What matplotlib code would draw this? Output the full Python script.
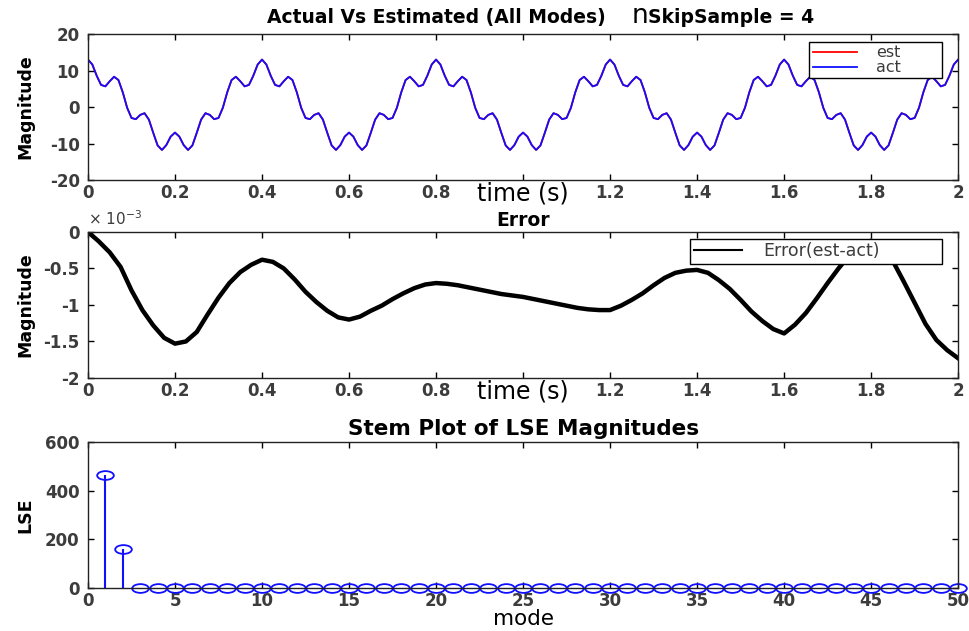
import numpy as np
import matplotlib.pyplot as plt
from matplotlib.path import Path
from matplotlib.offsetbox import TextArea, HPacker, AnchoredOffsetbox

plt.rcParams['axes.unicode_minus'] = False
plt.rcParams['font.family'] = ['DejaVu Sans']

# signal sampled every 10 ms over 2 s
t_sig = np.arange(201) * 0.01
act = [13.00, 11.64, 8.58, 6.06, 5.66, 7.07, 8.30, 7.39, 4.02, -0.20,
       -3.00, -3.33, -2.16, -1.69, -3.45, -7.07, -10.52, -11.76, -10.44, -8.11,
       -7.00, -8.11, -10.44, -11.76, -10.52, -7.07, -3.45, -1.69, -2.16, -3.33,
       -3.00, -0.20, 4.02, 7.39, 8.30, 7.07, 5.66, 6.06, 8.58, 11.64,
       13.00, 11.64, 8.58, 6.06, 5.66, 7.07, 8.30, 7.39, 4.02, -0.20,
       -3.00, -3.33, -2.16, -1.69, -3.45, -7.07, -10.52, -11.76, -10.44, -8.11,
       -7.00, -8.11, -10.44, -11.76, -10.52, -7.07, -3.45, -1.69, -2.16, -3.33,
       -3.00, -0.20, 4.02, 7.39, 8.30, 7.07, 5.66, 6.06, 8.58, 11.64,
       13.00, 11.64, 8.58, 6.06, 5.66, 7.07, 8.30, 7.39, 4.02, -0.20,
       -3.00, -3.33, -2.16, -1.69, -3.45, -7.07, -10.52, -11.76, -10.44, -8.11,
       -7.00, -8.11, -10.44, -11.76, -10.52, -7.07, -3.45, -1.69, -2.16, -3.33,
       -3.00, -0.20, 4.02, 7.39, 8.30, 7.07, 5.66, 6.06, 8.58, 11.64,
       13.00, 11.64, 8.58, 6.06, 5.66, 7.07, 8.30, 7.39, 4.02, -0.20,
       -3.00, -3.33, -2.16, -1.69, -3.45, -7.07, -10.52, -11.76, -10.44, -8.11,
       -7.00, -8.11, -10.44, -11.76, -10.52, -7.07, -3.45, -1.69, -2.16, -3.33,
       -3.00, -0.20, 4.02, 7.39, 8.30, 7.07, 5.66, 6.06, 8.58, 11.64,
       13.00, 11.64, 8.58, 6.06, 5.66, 7.07, 8.30, 7.39, 4.02, -0.20,
       -3.00, -3.33, -2.16, -1.69, -3.45, -7.07, -10.52, -11.76, -10.44, -8.11,
       -7.00, -8.11, -10.44, -11.76, -10.52, -7.07, -3.45, -1.69, -2.16, -3.33,
       -3.00, -0.20, 4.02, 7.39, 8.30, 7.07, 5.66, 6.06, 8.58, 11.64,
       13.00]
est = list(act)

# error (est - act), units of 1e-3, every 25 ms
t_err = np.arange(81) * 0.025
err = [0.00, -0.13, -0.28, -0.48, -0.80, -1.07, -1.28, -1.45, -1.53, -1.50,
       -1.37, -1.13, -0.90, -0.70, -0.55, -0.45, -0.38, -0.41, -0.50, -0.65,
       -0.82, -0.96, -1.08, -1.17, -1.20, -1.16, -1.08, -1.01, -0.92, -0.84,
       -0.77, -0.72, -0.70, -0.71, -0.73, -0.76, -0.79, -0.82, -0.85, -0.87,
       -0.89, -0.92, -0.95, -0.98, -1.01, -1.04, -1.06, -1.07, -1.07, -1.01,
       -0.93, -0.84, -0.73, -0.63, -0.56, -0.53, -0.52, -0.56, -0.66, -0.78,
       -0.93, -1.09, -1.22, -1.33, -1.39, -1.27, -1.11, -0.91, -0.70, -0.50,
       -0.32, -0.18, -0.12, -0.20, -0.40, -0.68, -0.97, -1.26, -1.48, -1.62,
       -1.73]

modes = np.arange(1, 51)
lse = [465, 160, 0, 0, 0, 0, 0, 0, 0, 0,
       0, 0, 0, 0, 0, 0, 0, 0, 0, 0,
       0, 0, 0, 0, 0, 0, 0, 0, 0, 0,
       0, 0, 0, 0, 0, 0, 0, 0, 0, 0,
       0, 0, 0, 0, 0, 0, 0, 0, 0, 0]

# the "1" tick label sits under the xlabel, so it stays blank
time_ticks = ['0', '0.2', '0.4', '0.6', '0.8', '', '1.2', '1.4', '1.6', '1.8', '2']

tick_col = '#3c3c3c'

def style(ax):
    ax.tick_params(direction='in', length=4, width=1, top=True, right=True,
                   labelsize=12, labelcolor=tick_col)
    ax.tick_params(axis='x', pad=3)
    ax.tick_params(axis='y', pad=6)
    for lab in ax.get_xticklabels() + ax.get_yticklabels():
        lab.set_fontweight('bold')
    for sp in ax.spines.values():
        sp.set_linewidth(1.0)
        sp.set_color('#222222')
    ax.yaxis.set_label_coords(-0.062, 0.5)

def legend(ax, box, size):
    # box = (x0, y0, width, height) in axes coords; legend is stretched to its width
    lg = ax.legend(loc='upper left', bbox_to_anchor=box, mode='expand', fontsize=size,
                   fancybox=False, framealpha=1, edgecolor='black',
                   handlelength=2.8, borderpad=0.2, labelspacing=0.0,
                   handletextpad=1.2, borderaxespad=0)
    lg.get_frame().set_linewidth(1.0)
    for txt in lg.get_texts():
        txt.set_color(tick_col)
    return lg

fig = plt.figure(figsize=(9.69, 6.31), dpi=100)
ax1 = fig.add_axes([0.0908, 0.7147, 0.898, 0.2314])
ax2 = fig.add_axes([0.0908, 0.4010, 0.898, 0.2314])
ax3 = fig.add_axes([0.0908, 0.0681, 0.898, 0.2314])

# --- actual vs estimated
ax1.plot(t_sig, est, color='red', lw=1.3, label='est')
ax1.plot(t_sig, act, color='#1010ff', lw=1.3, label='act')
ax1.set_xlim(0, 2)
ax1.set_ylim(-20, 20)
ax1.set_xticks(np.arange(0, 2.01, 0.2))
ax1.set_xticklabels(time_ticks)
ax1.set_yticks([-20, -10, 0, 10, 20])
ax1.set_ylabel('Magnitude', fontsize=12.5, fontweight='bold')
ax1.set_xlabel('time (s)', fontsize=17, labelpad=-15)
legend(ax1, (0.829, 0.685, 0.153, 0.26), 11.5)
style(ax1)

parts = [TextArea('Actual Vs Estimated (All Modes)    ',
                  textprops=dict(fontsize=13.5, fontweight='bold')),
         TextArea('n', textprops=dict(fontsize=19)),
         TextArea('SkipSample = 4', textprops=dict(fontsize=13.5, fontweight='bold'))]
title_box = HPacker(children=parts, align='baseline', pad=0, sep=0)
ax1.add_artist(AnchoredOffsetbox(loc='lower center', child=title_box, pad=0,
                                 borderpad=0, frameon=False,
                                 bbox_to_anchor=(0.52, 1.035),
                                 bbox_transform=ax1.transAxes))

# --- error
ax2.plot(t_err, err, color='black', lw=3.2, label='Error(est-act)')
ax2.set_xlim(0, 2)
ax2.set_ylim(-2, 0)
ax2.set_xticks(np.arange(0, 2.01, 0.2))
ax2.set_xticklabels(time_ticks)
ax2.set_yticks([-2, -1.5, -1, -0.5, 0])
ax2.set_yticklabels(['-2', '-1.5', '-1', '-0.5', '0'])
ax2.set_ylabel('Magnitude', fontsize=12.5, fontweight='bold')
ax2.set_xlabel('time (s)', fontsize=17, labelpad=-15)
ax2.set_title('Error', fontsize=13.5, fontweight='bold', pad=4)
ax2.text(0.0, 1.03, r'$\times$ 10$^{-3}$', transform=ax2.transAxes, fontsize=11,
         color=tick_col, ha='left', va='bottom')
lg2 = legend(ax2, (0.692, 0.788, 0.290, 0.164), 12.5)
lg2.get_lines()[0].set_linewidth(1.5)
style(ax2)

# --- stem plot of LSE per mode
circ = Path.unit_circle()
ellipse = Path(circ.vertices * np.array([1.9, 1.0]), circ.codes)
markerline, stemlines, baseline = ax3.stem(modes, lse, linefmt='b-', markerfmt='bo', basefmt=' ')
markerline.set_marker(ellipse)
markerline.set_markersize(12)
markerline.set_markerfacecolor('none')
markerline.set_markeredgecolor('#1010ff')
markerline.set_markeredgewidth(1.3)
markerline.set_clip_on(False)
stemlines.set_color('#1010ff')
stemlines.set_linewidth(1.5)
ax3.set_xlim(0, 50)
ax3.set_ylim(0, 600)
ax3.set_xticks(np.arange(0, 51, 5))
ax3.set_yticks([0, 200, 400, 600])
ax3.set_ylabel('LSE', fontsize=12.5, fontweight='bold')
ax3.set_xlabel('mode', fontsize=15.5, labelpad=-1)
ax3.set_title('Stem Plot of LSE Magnitudes', fontsize=15.5, fontweight='bold', pad=5)
style(ax3)

fig.savefig('out.png', dpi=100)
